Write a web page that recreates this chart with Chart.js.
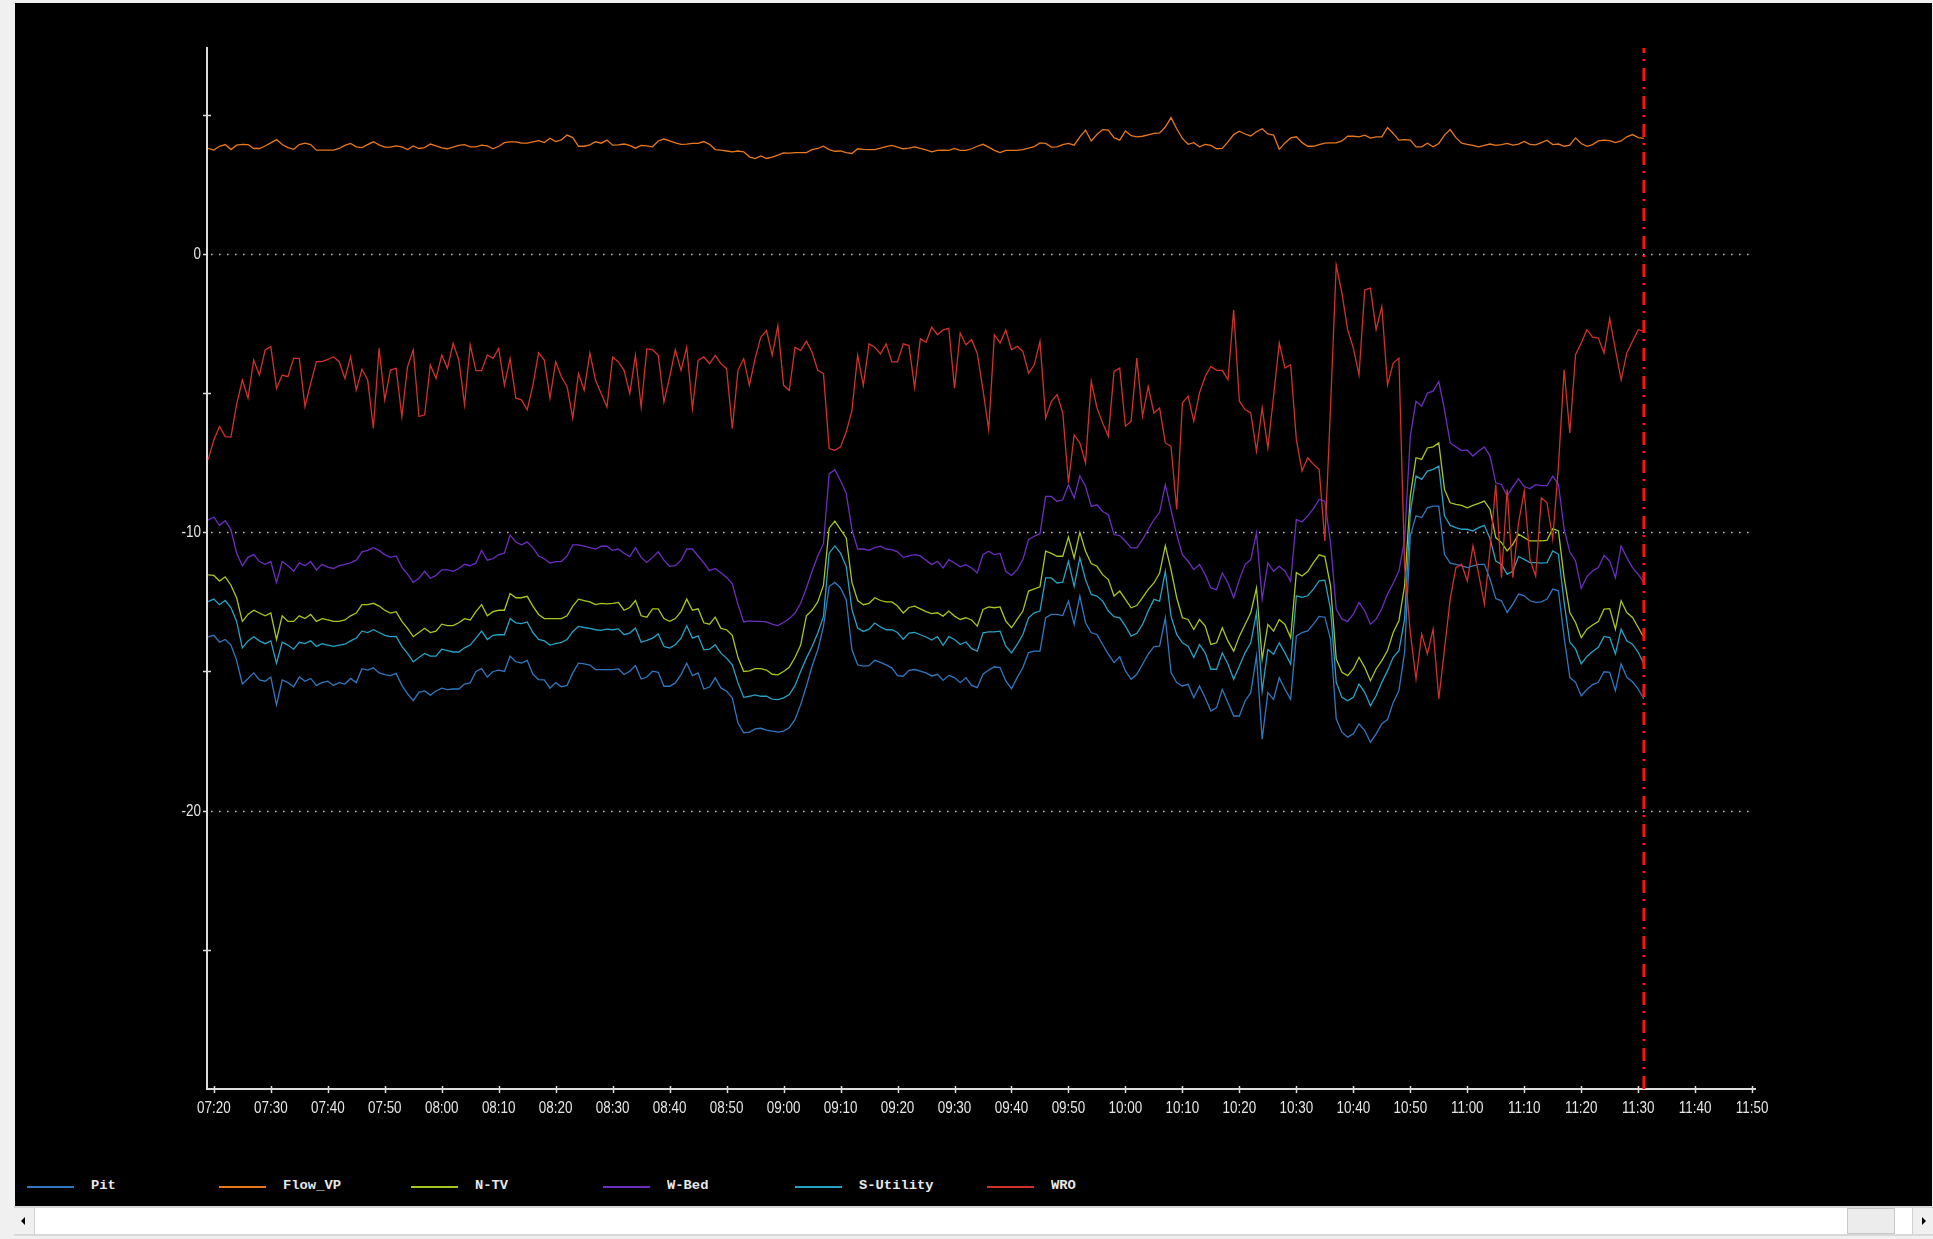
<!DOCTYPE html>
<html>
<head>
<meta charset="utf-8">
<script src="https://cdn.jsdelivr.net/npm/chart.js@4.4.1/dist/chart.umd.min.js"></script>
<style>
html,body{margin:0;padding:0;background:#f0f0f0;width:1933px;height:1239px;overflow:hidden;}
#panel{position:absolute;left:15px;top:3px;width:1917px;height:1203px;background:#000;}
#chart{position:absolute;left:0;top:0;}
#legend{position:absolute;left:0;top:1172px;width:1917px;height:26px;}
.item{position:absolute;top:0;height:26px;width:190px;}
.swatch{position:absolute;left:0;top:11px;width:47px;height:2px;}
.lbl{position:absolute;left:64px;top:4px;font:bold 12px 'Liberation Mono',monospace;color:#e8e8e8;white-space:pre;line-height:15px;transform:scaleX(1.15);transform-origin:0 50%;}
#sb{position:absolute;left:14px;top:1206px;width:1919px;height:30px;background:#fff;border-top:2px solid #d8d8d8;border-bottom:2px solid #d8d8d8;box-sizing:border-box;}
#sbl{position:absolute;left:0;top:0;width:21px;height:26px;background:#f0f0f0;border-right:1px solid #d0d0d0;box-sizing:border-box;}
#sbr{position:absolute;right:0;top:0;width:21px;height:26px;background:#f0f0f0;border-left:1px solid #d0d0d0;box-sizing:border-box;}
#thumb{position:absolute;left:1833px;top:0;width:48px;height:26px;background:#ececec;border:1px solid #c8c8c8;box-sizing:border-box;}
.arrL{position:absolute;left:7px;top:9px;width:0;height:0;border-top:4px solid transparent;border-bottom:4px solid transparent;border-right:4px solid #000;}
.arrR{position:absolute;left:9px;top:9px;width:0;height:0;border-top:4px solid transparent;border-bottom:4px solid transparent;border-left:4px solid #000;}
</style>
</head>
<body>
<div id="panel">
  <canvas id="chart" width="1917" height="1137"></canvas>
  <div id="legend"></div>
</div>
<div id="sb"><div id="sbl"><div class="arrL"></div></div><div id="thumb"></div><div id="sbr"><div class="arrR"></div></div></div>
<script>
// ---------------- DATA ----------------
const seriesNames = ['Pit', 'Flow_VP', 'N-TV', 'W-Bed', 'S-Utility', 'WRO'];
const seriesColors = ['#2f78c0', '#e8781c', '#a6c81e', '#6c2ec0', '#26a2c6', '#d2312b'];
const firstTime = '07:19';           // first sample, one sample per minute
const cursorTime = '11:31';
const xTickLabels = ['07:20','07:30','07:40','07:50','08:00','08:10','08:20','08:30','08:40','08:50','09:00','09:10','09:20','09:30','09:40','09:50','10:00','10:10','10:20','10:30','10:40','10:50','11:00','11:10','11:20','11:30','11:40','11:50'];
const yLabelValues = [0, -10, -20];
const yMinorValues = [5, -5, -15, -25];
const yMin = -30, yMax = 7.4;

const pit = [-13.76,-13.7,-13.95,-13.85,-14.05,-14.6,-15.45,-15.25,-15.05,-15.3,-15.35,-15.2,-16.2,-15.3,-15.4,-15.55,-15.2,-15.35,-15.25,-15.5,-15.4,-15.35,-15.5,-15.4,-15.45,-15.25,-15.4,-14.9,-14.95,-14.87,-15.05,-15.11,-15.15,-15.07,-15.5,-15.8,-16.05,-15.75,-15.7,-15.85,-15.7,-15.6,-15.65,-15.63,-15.63,-15.45,-15.41,-15.0,-14.9,-15.2,-15.0,-14.95,-15.0,-14.45,-14.65,-14.7,-14.6,-15.1,-15.29,-15.3,-15.6,-15.4,-15.55,-15.5,
-15.05,-14.7,-14.73,-14.77,-14.93,-14.93,-14.93,-14.93,-14.9,-15.11,-14.99,-14.79,-15.27,-15.2,-14.99,-15.03,-15.53,-15.53,-15.41,-15.11,-14.7,-15.15,-15.05,-15.63,-15.56,-15.23,-15.59,-15.71,-15.95,-16.85,-17.2,-17.18,-17.06,-17.04,-17.11,-17.14,-17.18,-17.14,-17.02,-16.73,-16.19,-15.53,-14.81,-14.22,-13.38,-11.95,-11.8,-12.0,-12.43,-14.22,-14.76,-14.81,-14.79,-14.6,-14.67,-14.76,-14.87,-15.15,-15.17,-14.96,-14.93,-14.99,-15.05,
-15.16,-15.1,-15.32,-15.14,-15.22,-15.4,-15.22,-15.5,-15.58,-15.1,-14.95,-14.83,-14.86,-15.34,-15.62,-15.22,-14.86,-14.32,-14.27,-14.27,-13.07,-12.95,-12.95,-12.99,-12.47,-13.31,-12.29,-13.25,-13.61,-13.67,-14.03,-14.38,-14.68,-14.47,-14.98,-15.28,-15.1,-14.74,-14.38,-14.11,-14.09,-13.07,-15.04,-15.4,-15.52,-15.46,-15.94,-15.52,-15.94,-16.42,-16.3,-15.64,-16.12,-16.6,-16.6,-16.06,-15.76,-14.44,-17.43,-15.76,-16.0,-15.22,-15.64,-16.0,
-13.72,-13.6,-13.54,-13.3,-13.02,-13.05,-13.84,-16.7,-17.18,-17.36,-17.24,-16.88,-17.12,-17.54,-17.24,-16.88,-16.73,-16.11,-15.69,-14.31,-10.13,-9.41,-9.47,-9.12,-9.06,-9.06,-10.79,-11.11,-11.15,-11.21,-11.27,-11.21,-11.15,-11.15,-11.68,-12.38,-12.46,-12.88,-12.58,-12.22,-12.28,-12.46,-12.52,-12.5,-12.4,-12.04,-12.1,-13.78,-15.21,-15.39,-15.87,-15.65,-15.47,-15.39,-15.01,-15.03,-15.69,-14.73,-15.21,-15.37,-15.63,-15.99];

const flowVP = [3.79,3.73,3.87,3.93,3.75,3.91,3.94,3.93,3.79,3.79,3.88,
3.99,4.11,3.93,3.82,3.76,3.93,3.98,3.93,3.73,3.73,
3.73,3.73,3.79,3.90,3.97,3.85,3.82,3.93,4.03,3.92,
3.84,3.84,3.88,3.85,3.75,3.88,3.79,3.82,3.95,3.88,
3.81,3.78,3.84,3.90,3.93,3.85,3.85,3.91,3.88,3.78,
3.87,4.00,4.03,4.03,3.98,3.98,4.03,4.07,4.00,4.16,
4.04,4.10,4.27,4.18,3.87,3.87,3.92,4.03,3.98,4.09,
3.91,3.92,3.95,3.90,3.80,3.90,3.88,3.85,4.06,4.13,
4.06,3.99,3.94,3.95,3.97,3.97,4.04,3.94,3.75,3.73,
3.70,3.67,3.70,3.67,3.49,3.43,3.52,3.43,3.48,3.55,
3.63,3.62,3.64,3.64,3.64,3.75,3.79,3.87,3.75,3.69,
3.70,3.64,3.61,3.78,3.76,3.75,3.75,3.80,3.86,3.90,
3.84,3.78,3.80,3.85,3.79,3.74,3.67,3.72,3.73,3.72,
3.79,3.72,3.72,3.78,3.87,3.94,3.84,3.72,3.64,3.72,
3.72,3.72,3.75,3.80,3.86,3.99,3.97,3.84,3.85,3.93,
3.97,3.91,4.21,4.45,4.06,4.29,4.47,4.45,4.18,4.09,
4.42,4.25,4.21,4.23,4.28,4.33,4.35,4.56,4.90,4.50,
4.15,3.94,4.00,3.85,3.94,3.90,3.78,3.79,4.03,4.29,
4.41,4.31,4.24,4.39,4.50,4.31,4.27,3.76,3.99,4.17,
4.21,4.00,3.87,3.87,3.93,3.98,3.99,3.99,4.06,4.23,
4.23,4.21,4.27,4.16,4.21,4.21,4.54,4.33,4.09,4.11,
4.09,3.85,3.85,3.98,3.85,3.97,4.27,4.47,4.18,3.98,
3.94,3.90,3.85,3.90,3.95,3.90,3.93,3.97,3.91,3.95,
4.04,3.94,3.92,4.00,4.09,3.93,3.95,3.87,3.91,4.17,
3.97,3.87,3.93,4.06,4.09,4.07,4.00,4.06,4.21,4.29,
4.18,4.15];

const nTV = [-11.53,-11.55,-11.75,-11.6,-11.9,-12.35,-13.2,-12.95,-12.8,-12.9,-13.0,-12.9,-13.85,-13.0,-13.2,-13.2,-13.0,-13.1,-12.95,-13.2,-13.1,-13.15,-13.2,-13.2,-13.15,-13.0,-12.9,-12.6,-12.6,-12.55,-12.65,-12.8,-12.9,-12.85,-13.2,-13.45,-13.75,-13.6,-13.45,-13.6,-13.55,-13.3,-13.35,-13.35,-13.25,-13.1,-13.15,-12.85,-12.6,-13.0,-12.85,-12.8,-12.8,-12.2,-12.35,-12.35,-12.3,-12.65,-12.95,-13.1,-13.1,-13.1,-13.1,-13.0,
-12.65,-12.4,-12.45,-12.5,-12.6,-12.55,-12.57,-12.55,-12.52,-12.8,-12.7,-12.45,-13.0,-13.05,-12.75,-12.75,-13.1,-13.2,-13.1,-12.85,-12.4,-12.8,-12.75,-13.25,-13.3,-13.05,-13.45,-13.5,-13.7,-14.5,-15.0,-14.98,-14.9,-14.9,-14.95,-15.1,-15.12,-15.0,-14.85,-14.5,-14.05,-13.0,-12.8,-12.5,-11.9,-9.85,-9.6,-9.9,-10.2,-11.8,-12.45,-12.6,-12.55,-12.35,-12.45,-12.5,-12.5,-12.65,-12.9,-12.7,-12.65,-12.75,-12.85,
-12.92,-12.89,-13.01,-12.83,-13.01,-13.13,-13.07,-13.15,-13.37,-12.77,-12.68,-12.71,-12.68,-13.19,-13.43,-13.13,-12.83,-12.11,-12.03,-11.96,-10.68,-10.76,-10.86,-10.86,-10.17,-10.92,-10.0,-10.68,-11.12,-11.22,-11.52,-11.7,-12.29,-12.11,-12.41,-12.71,-12.63,-12.35,-12.05,-11.82,-11.46,-10.48,-11.34,-12.35,-13.07,-13.13,-13.49,-13.13,-13.37,-14.03,-13.97,-13.43,-13.91,-14.27,-13.73,-13.31,-12.89,-12.0,-14.56,-13.31,-13.55,-13.13,-13.31,-13.79,
-11.45,-11.57,-11.41,-11.09,-10.81,-10.87,-11.92,-14.55,-15.03,-15.15,-14.91,-14.49,-14.85,-15.33,-14.91,-14.61,-14.25,-13.6,-13.18,-11.92,-8.7,-7.32,-7.38,-6.97,-6.93,-6.79,-8.46,-8.94,-9.0,-9.03,-9.12,-9.03,-8.96,-8.88,-9.18,-10.19,-10.37,-10.67,-10.43,-10.07,-10.19,-10.31,-10.31,-10.31,-10.29,-9.87,-9.95,-11.63,-12.88,-13.24,-13.78,-13.48,-13.33,-13.21,-12.76,-12.74,-13.48,-12.46,-12.88,-13.06,-13.42,-13.78];

const wBed = [-9.56,-9.45,-9.75,-9.58,-9.9,-10.75,-11.2,-10.9,-10.8,-11.05,-11.15,-11.05,-11.8,-11.05,-11.2,-11.4,-11.1,-11.2,-11.05,-11.35,-11.15,-11.25,-11.3,-11.2,-11.15,-11.1,-11.0,-10.7,-10.65,-10.55,-10.65,-10.8,-10.9,-10.85,-11.25,-11.5,-11.8,-11.65,-11.4,-11.65,-11.55,-11.35,-11.35,-11.4,-11.3,-11.15,-11.2,-11.1,-10.65,-11.0,-10.95,-10.8,-10.75,-10.1,-10.35,-10.45,-10.35,-10.55,-10.85,-10.95,-11.1,-11.05,-11.05,-10.85,
-10.45,-10.45,-10.5,-10.55,-10.6,-10.5,-10.5,-10.65,-10.6,-10.75,-10.87,-10.55,-10.9,-11.08,-10.9,-10.7,-11.0,-11.22,-11.2,-11.0,-10.6,-10.6,-10.85,-11.1,-11.38,-11.3,-11.45,-11.62,-11.85,-12.6,-13.22,-13.18,-13.2,-13.2,-13.22,-13.3,-13.35,-13.24,-13.1,-12.9,-12.55,-12.0,-11.4,-10.85,-10.4,-7.9,-7.75,-8.15,-8.6,-9.9,-10.6,-10.6,-10.65,-10.55,-10.5,-10.6,-10.62,-10.7,-10.9,-10.85,-10.8,-10.85,-11.0,
-11.16,-11.04,-11.28,-10.98,-11.1,-11.24,-11.16,-11.28,-11.46,-10.8,-10.68,-10.8,-10.76,-11.4,-11.55,-11.34,-10.98,-10.26,-10.14,-10.05,-8.71,-8.71,-8.89,-8.83,-8.29,-8.77,-7.97,-8.35,-9.07,-9.01,-9.25,-9.37,-10.08,-10.12,-10.32,-10.56,-10.56,-10.26,-9.9,-9.55,-9.28,-8.29,-9.19,-10.08,-10.8,-11.04,-11.34,-11.16,-11.52,-12.0,-12.06,-11.46,-11.82,-12.35,-11.7,-11.16,-10.98,-10.02,-12.41,-11.1,-11.4,-11.22,-11.4,-11.76,
-9.54,-9.63,-9.41,-9.15,-8.82,-8.88,-10.37,-12.76,-13.12,-13.2,-12.94,-12.52,-12.82,-13.3,-13.12,-12.74,-12.22,-11.83,-11.39,-10.25,-6.55,-5.29,-5.47,-5.0,-4.93,-4.58,-5.59,-6.79,-6.93,-7.06,-7.05,-7.26,-7.08,-6.93,-7.26,-8.22,-8.28,-8.7,-8.36,-8.08,-8.36,-8.43,-8.29,-8.32,-8.32,-7.98,-8.28,-9.89,-10.71,-11.03,-12.02,-11.59,-11.39,-11.27,-10.83,-11.03,-11.63,-10.49,-10.91,-11.27,-11.51,-11.8];

const sUtility = [-12.49,-12.4,-12.6,-12.45,-12.7,-13.2,-14.15,-13.9,-13.75,-13.9,-14.0,-13.9,-14.7,-13.95,-14.05,-14.2,-13.95,-14.0,-13.9,-14.1,-14.0,-14.05,-14.1,-14.05,-14.02,-13.9,-13.8,-13.55,-13.6,-13.5,-13.6,-13.7,-13.75,-13.74,-14.1,-14.35,-14.65,-14.5,-14.35,-14.45,-14.45,-14.2,-14.25,-14.3,-14.3,-14.15,-14.05,-13.8,-13.55,-13.85,-13.7,-13.68,-13.68,-13.1,-13.25,-13.28,-13.22,-13.6,-13.85,-13.9,-14.05,-14.0,-13.95,-13.85,
-13.56,-13.38,-13.42,-13.45,-13.5,-13.52,-13.48,-13.5,-13.47,-13.68,-13.62,-13.44,-13.95,-13.88,-13.8,-13.65,-14.1,-14.16,-14.04,-13.8,-13.36,-13.8,-13.72,-14.22,-14.2,-14.04,-14.34,-14.52,-14.76,-15.41,-15.93,-15.89,-15.84,-15.89,-15.89,-15.99,-16.01,-15.95,-15.83,-15.51,-14.99,-14.52,-14.1,-13.62,-13.02,-10.75,-10.49,-10.75,-11.23,-12.78,-13.44,-13.56,-13.48,-13.26,-13.4,-13.5,-13.5,-13.6,-13.84,-13.62,-13.6,-13.68,-13.76,
-13.87,-13.75,-14.06,-13.75,-13.85,-14.03,-13.94,-14.18,-14.27,-13.61,-13.58,-13.58,-13.55,-14.09,-14.33,-14.03,-13.67,-13.07,-12.89,-12.83,-11.64,-11.64,-11.82,-11.79,-11.04,-11.94,-10.92,-11.7,-12.23,-12.29,-12.47,-12.83,-13.03,-13.07,-13.37,-13.73,-13.63,-13.31,-12.83,-12.41,-12.47,-11.4,-13.01,-13.67,-13.97,-14.09,-14.5,-14.03,-14.33,-14.92,-14.92,-14.33,-14.74,-15.28,-14.8,-14.33,-13.97,-12.89,-15.7,-14.21,-14.38,-13.97,-14.33,-14.74,
-12.28,-12.34,-12.28,-12.04,-11.74,-11.72,-12.76,-15.39,-15.93,-16.05,-15.93,-15.45,-15.75,-16.23,-15.87,-15.39,-14.97,-14.49,-14.25,-13.12,-9.29,-7.98,-8.1,-7.8,-7.74,-7.62,-9.41,-9.75,-9.83,-9.89,-9.89,-9.95,-9.83,-9.75,-10.23,-11.03,-11.15,-11.51,-11.39,-10.87,-10.97,-11.09,-11.09,-11.11,-11.09,-10.67,-10.79,-12.52,-13.95,-14.19,-14.73,-14.46,-14.28,-14.13,-13.74,-13.78,-14.37,-13.48,-13.9,-14.02,-14.31,-14.73];

const wro = [-7.39,-6.68,-6.2,-6.56,-6.58,-5.4,-4.53,-5.18,-3.81,-4.35,-3.45,-3.33,-4.83,-4.35,-4.41,-3.75,-3.75,-5.48,-4.65,-3.87,-3.87,-3.79,-3.69,-3.87,-4.47,-3.69,-4.89,-4.14,-4.53,-6.26,-3.39,-5.24,-4.17,-4.11,-5.84,-4.05,-3.45,-5.84,-5.78,-3.99,-4.47,-3.63,-4.11,-3.21,-3.81,-5.42,-3.27,-4.19,-4.19,-3.63,-3.75,-3.39,-4.71,-3.75,-5.18,-5.24,-5.6,-4.71,-3.55,-3.81,-5.18,-3.87,-4.41,-4.77,-5.9,
-4.3,-4.9,-3.56,-4.54,-5.02,-5.5,-3.7,-3.88,-4.18,-5.02,-3.64,-5.5,-3.41,-3.44,-3.64,-5.32,-4.42,-3.44,-4.18,-3.35,-5.56,-3.82,-3.7,-3.94,-3.64,-3.94,-4.12,-6.27,-4.18,-3.76,-4.72,-3.76,-2.99,-2.75,-3.64,-2.57,-4.72,-4.9,-3.35,-3.47,-3.13,-3.53,-4.18,-4.3,-6.99,-7.05,-6.93,-6.39,-5.62,-3.64,-4.72,-3.23,-3.35,-3.59,-3.23,-3.88,-3.88,-3.23,-3.29,-4.8,-3.05,-3.17,-2.63,
-2.9,-2.73,-2.67,-4.82,-2.84,-3.26,-3.08,-3.58,-4.88,-6.31,-2.9,-3.2,-2.73,-3.44,-3.32,-3.5,-4.28,-3.98,-3.14,-5.89,-5.29,-5.05,-5.71,-8.22,-6.5,-6.79,-7.5,-4.58,-5.53,-6.07,-6.55,-4.22,-4.1,-6.19,-6.01,-3.74,-5.83,-4.76,-5.71,-5.53,-6.79,-6.91,-9.18,-5.35,-5.11,-6.01,-4.99,-4.4,-4.04,-4.18,-4.18,-4.52,-2.01,-5.29,-5.59,-5.71,-7.08,-5.53,-6.97,-5.11,-3.2,-4.1,-3.98,
-6.67,-7.8,-7.32,-7.56,-7.74,-10.31,-5.5,-0.4,-1.41,-2.72,-3.38,-4.34,-1.29,-1.23,-2.72,-1.89,-4.7,-3.92,-3.74,-11.2,-13.6,-15.27,-13.66,-14.37,-13.48,-15.99,-14.2,-12.4,-11.27,-11.15,-11.75,-10.49,-11.5,-12.58,-10.61,-8.28,-11.63,-8.46,-11.63,-9.65,-8.52,-10.97,-11.57,-8.76,-8.94,-10.25,-7.62,-4.16,-6.43,-3.62,-3.2,-2.72,-2.99,-3.02,-3.56,-2.31,-3.44,-4.52,-3.56,-3.14,-2.72,-2.78];

const seriesValues = [pit, flowVP, nTV, wBed, sUtility, wro];

// ---------------- HELPERS ----------------
const BASE = 7 * 60 + 20; // minutes of 07:20
const toMin = s => { const [h, m] = s.split(':').map(Number); return h * 60 + m - BASE; };
const start = toMin(firstTime);
const minutes = pit.map((_, i) => start + i);
const cursorX = toMin(cursorTime);

const TXT = '#e6e6e6';
const AXIS = '#dcdcdc';
const LABEL_FONT = "16px 'Liberation Sans', Arial, sans-serif";
const NARROW = 0.84;

// axis decorations: dotted grid at labelled values, crossing tick marks, condensed tick labels
const axisDeco = {
  id: 'axisDeco',
  beforeDatasetsDraw(chart) {
    const { ctx, chartArea: a, scales: { x, y } } = chart;
    ctx.save();
    ctx.strokeStyle = '#c8c8c8';
    ctx.lineWidth = 1.5;
    ctx.setLineDash([1.5, 6.5]);
    yLabelValues.forEach(v => {
      const py = Math.round(y.getPixelForValue(v)) + 0.5;
      ctx.beginPath(); ctx.moveTo(a.left + 4, py); ctx.lineTo(a.right - 3, py); ctx.stroke();
    });
    ctx.setLineDash([]);
    ctx.strokeStyle = AXIS;
    ctx.lineWidth = 1.5;
    yLabelValues.forEach(v => {
      const py = Math.round(y.getPixelForValue(v)) + 0.5;
      ctx.beginPath(); ctx.moveTo(a.left - 4, py); ctx.lineTo(a.left, py); ctx.stroke();
    });
    yMinorValues.forEach(v => {
      const py = Math.round(y.getPixelForValue(v)) + 0.5;
      ctx.beginPath(); ctx.moveTo(a.left - 4, py); ctx.lineTo(a.left + 4, py); ctx.stroke();
    });
    xTickLabels.forEach(l => {
      const px = Math.round(x.getPixelForValue(toMin(l))) + 0.5;
      ctx.beginPath(); ctx.moveTo(px, a.bottom - 3); ctx.lineTo(px, a.bottom + 4); ctx.stroke();
    });
    // tick labels
    ctx.fillStyle = TXT;
    ctx.font = LABEL_FONT;
    ctx.textBaseline = 'middle';
    ctx.textAlign = 'center';
    xTickLabels.forEach(l => {
      const px = x.getPixelForValue(toMin(l));
      ctx.save(); ctx.translate(px, a.bottom + 20); ctx.scale(NARROW, 1); ctx.fillText(l, 0, 0); ctx.restore();
    });
    ctx.textAlign = 'right';
    yLabelValues.forEach(v => {
      const py = y.getPixelForValue(v);
      ctx.save(); ctx.translate(a.left - 6, py + 0.5); ctx.scale(NARROW, 1); ctx.fillText(String(v), 0, 0); ctx.restore();
    });
    ctx.restore();
  }
};

const order = [5, 4, 3, 2, 1, 0];
const datasets = seriesNames.map((name, i) => ({
  label: name,
  data: seriesValues[i],
  borderColor: seriesColors[i],
  borderWidth: 1.3,
  pointRadius: 0,
  tension: 0,
  fill: false,
  order: order[i]
}));
datasets.push({
  label: 'cursor',
  data: [{ x: cursorX, y: yMin }, { x: cursorX, y: yMax }],
  borderColor: '#ff1010',
  borderWidth: 3,
  borderDash: [13, 7, 2, 6],
  pointRadius: 0,
  order: -1
});

new Chart(document.getElementById('chart'), {
  type: 'line',
  data: { labels: minutes, datasets },
  options: {
    responsive: false,
    animation: false,
    devicePixelRatio: 1,
    layout: { padding: { left: 0, top: 45, right: 177, bottom: 0 } },
    plugins: { legend: { display: false }, tooltip: { enabled: false } },
    scales: {
      x: {
        type: 'linear',
        min: toMin(xTickLabels[0]) - 1.2,
        max: toMin(xTickLabels[xTickLabels.length - 1]) + 0.5,
        afterBuildTicks: s => { s.ticks = xTickLabels.map(l => ({ value: toMin(l) })); },
        afterFit: s => { s.height = 51; },
        grid: { display: false, drawTicks: false },
        border: { display: true, color: AXIS, width: 2 },
        ticks: { display: false }
      },
      y: {
        min: yMin,
        max: yMax,
        afterBuildTicks: s => { s.ticks = yLabelValues.map(v => ({ value: v })); },
        afterFit: s => { s.width = 192; },
        grid: { display: false, drawTicks: false },
        border: { display: true, color: AXIS, width: 2 },
        ticks: { display: false }
      }
    }
  },
  plugins: [axisDeco]
});

// legend (HTML), built from the series definitions
const lg = document.getElementById('legend');
seriesNames.forEach((n, i) => {
  const it = document.createElement('div');
  it.className = 'item';
  it.style.left = (12 + i * 192) + 'px';
  it.innerHTML = '<div class="swatch" style="background:' + seriesColors[i] + '"></div><div class="lbl">' + n + '</div>';
  lg.appendChild(it);
});
</script>
</body>
</html>
